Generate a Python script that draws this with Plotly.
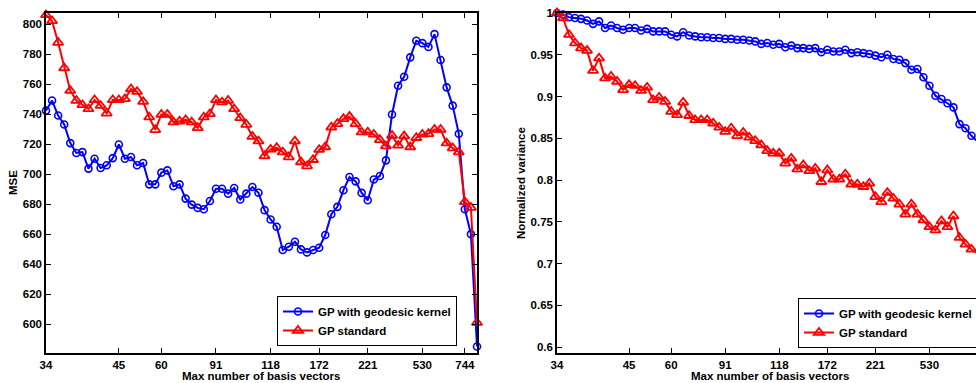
import plotly.graph_objects as go

# x positions: index of the basis-vector setting (plotted at equal spacing)
steps = list(range(72))
tick_pos = [0, 12, 19, 28, 37, 45, 53, 62, 69]
tick_labels = ["34", "45", "60", "91", "118", "172", "221", "530", "744"]

mse_geodesic = [742.4, 749.1, 739.1, 733.1, 720.7, 714.1, 714.7, 703.7, 710.3, 704.1,
                705.9, 710.7, 719.8, 710.3, 711.4, 705.9, 707.4, 693.2, 693.2, 701.0,
                702.5, 691.9, 693.2, 683.7, 679.7, 677.5, 676.6, 682.1, 690.3, 690.3,
                687.0, 690.8, 683.1, 687.0, 691.4, 687.6, 676.0, 669.8, 664.9, 649.4,
                651.6, 654.9, 649.8, 647.8, 649.4, 650.9, 659.4, 673.3, 678.2, 689.3,
                698.1, 695.2, 687.5, 682.6, 696.4, 698.8, 709.2, 739.8, 759.0, 765.0,
                777.9, 789.0, 787.4, 784.9, 793.4, 776.1, 757.9, 745.7, 726.9, 676.6,
                660.0, 585.0]
mse_standard = [806.2, 802.2, 787.8, 770.8, 755.7, 749.1, 746.2, 743.5, 749.5, 745.7,
                740.6, 749.5, 749.5, 750.2, 756.8, 755.0, 748.4, 738.0, 729.6, 739.8,
                739.8, 734.7, 735.3, 736.2, 734.7, 730.9, 738.0, 740.2, 749.5, 748.0,
                749.1, 743.5, 737.5, 733.1, 725.1, 722.0, 712.1, 716.5, 717.6, 714.7,
                711.4, 722.0, 708.1, 705.4, 709.6, 716.3, 718.1, 731.3, 733.6, 736.9,
                738.4, 733.6, 728.0, 728.0, 726.5, 722.9, 718.7, 725.8, 719.2, 725.4,
                718.1, 724.3, 726.5, 726.9, 729.8, 729.8, 720.7, 717.4, 714.7, 681.5,
                677.7, 601.0]

var_geodesic = [1.000, 0.998, 0.995, 0.994, 0.993, 0.991, 0.987, 0.990, 0.982, 0.985,
                0.982, 0.980, 0.982, 0.982, 0.979, 0.981, 0.978, 0.978, 0.978, 0.974,
                0.972, 0.977, 0.973, 0.972, 0.971, 0.971, 0.970, 0.970, 0.969, 0.969,
                0.968, 0.968, 0.967, 0.966, 0.963, 0.964, 0.962, 0.963, 0.959, 0.961,
                0.958, 0.958, 0.957, 0.958, 0.953, 0.956, 0.954, 0.954, 0.956, 0.952,
                0.953, 0.952, 0.951, 0.949, 0.947, 0.950, 0.945, 0.944, 0.940, 0.932,
                0.933, 0.923, 0.913, 0.901, 0.897, 0.892, 0.887, 0.867, 0.862, 0.853,
                0.846, 0.838]
var_standard = [1.000, 0.994, 0.974, 0.964, 0.958, 0.955, 0.931, 0.946, 0.922, 0.924,
                0.918, 0.908, 0.914, 0.913, 0.907, 0.911, 0.896, 0.899, 0.894, 0.882,
                0.878, 0.893, 0.877, 0.872, 0.872, 0.872, 0.868, 0.863, 0.858, 0.862,
                0.853, 0.857, 0.851, 0.847, 0.842, 0.835, 0.832, 0.832, 0.820, 0.826,
                0.813, 0.818, 0.811, 0.814, 0.798, 0.812, 0.801, 0.801, 0.807, 0.795,
                0.795, 0.792, 0.796, 0.780, 0.774, 0.785, 0.778, 0.771, 0.759, 0.771,
                0.759, 0.752, 0.744, 0.740, 0.751, 0.744, 0.757, 0.731, 0.723, 0.717,
                0.713, 0.708]

mse_ticks = [600, 620, 640, 660, 680, 700, 720, 740, 760, 780, 800]
var_ticks = [0.6, 0.65, 0.7, 0.75, 0.8, 0.85, 0.9, 0.95, 1.0]
var_tick_labels = ["0.6", "0.65", "0.7", "0.75", "0.8", "0.85", "0.9", "0.95", "1"]

FONT = "Liberation Sans, Arial, sans-serif"
FS = 11.5
BLUE = "#0000FF"
RED = "#FF0000"

fig = go.Figure()

def add_pair(xa, ya, ygeo, ystd, legend):
    fig.add_trace(go.Scatter(
        x=steps, y=ygeo, xaxis=xa, yaxis=ya, mode="lines+markers",
        name="GP with geodesic kernel", legend=legend, cliponaxis=False,
        line=dict(color=BLUE, width=2),
        marker=dict(symbol="circle-open", size=7, color=BLUE, line=dict(width=1.6, color=BLUE))))
    fig.add_trace(go.Scatter(
        x=steps, y=ystd, xaxis=xa, yaxis=ya, mode="lines+markers",
        name="GP standard", legend=legend, cliponaxis=False,
        line=dict(color=RED, width=2),
        marker=dict(symbol="triangle-up-open", size=9, color=RED, line=dict(width=1.8, color=RED))))

add_pair("x", "y", mse_geodesic, mse_standard, "legend")
add_pair("x2", "y2", var_geodesic, var_standard, "legend2")

tickfont = dict(family=FONT, size=FS, color="black", weight="bold")
axis_common = dict(showgrid=False, zeroline=False, showline=True, linecolor="black",
                   linewidth=1.5, ticks="inside", ticklen=5, tickwidth=1, tickcolor="black",
                   tickfont=tickfont)

left_dom = [0, 431 / 930]
right_dom = [511 / 930, 1]
legend_font = dict(family=FONT, size=FS, color="black", weight="bold")

fig.update_layout(
    width=976, height=383,
    margin=dict(l=46, r=0, t=13, b=30, autoexpand=False),
    paper_bgcolor="white", plot_bgcolor="white",
    font=dict(family=FONT, size=FS, color="black"),
    hovermode=False,
    xaxis=dict(domain=left_dom, range=[0, 71], tickvals=tick_pos, ticktext=tick_labels,
               mirror="allticks", anchor="y", **axis_common),
    yaxis=dict(domain=[0, 1], range=[580.7, 807.5], tickvals=mse_ticks,
               mirror="allticks", anchor="x", **axis_common),
    xaxis2=dict(domain=right_dom, range=[0, 69.75], tickvals=tick_pos[:-1],
                ticktext=tick_labels[:-1], mirror="allticks", anchor="y2", **axis_common),
    yaxis2=dict(domain=[0, 1], range=[0.593, 1.0], tickvals=var_ticks, ticktext=var_tick_labels,
                mirror=False, anchor="x2", **axis_common),
    legend=dict(x=231 / 930, y=(353 - 296) / 340, xanchor="left", yanchor="top",
                bgcolor="white", bordercolor="black", borderwidth=1,
                font=legend_font, itemwidth=30, tracegroupgap=0),
    legend2=dict(x=752 / 930, y=(353 - 298) / 340, xanchor="left", yanchor="top",
                 bgcolor="white", bordercolor="black", borderwidth=1,
                 font=legend_font, itemwidth=30, tracegroupgap=0),
    showlegend=True,
)

title_font = dict(family=FONT, size=FS, color="black", weight="bold")
fig.add_annotation(text="Max number of basis vectors", x=(261 - 46) / 930, y=(353 - 376) / 340,
                   xref="paper", yref="paper", showarrow=False, font=title_font,
                   xanchor="center", yanchor="middle")
fig.add_annotation(text="Max number of basis vectors", x=(770 - 46) / 930, y=(353 - 376) / 340,
                   xref="paper", yref="paper", showarrow=False, font=title_font,
                   xanchor="center", yanchor="middle")
fig.add_annotation(text="MSE", x=(13 - 46) / 930, y=0.5, xref="paper", yref="paper",
                   showarrow=False, font=title_font, textangle=-90,
                   xanchor="center", yanchor="middle")
fig.add_annotation(text="Normalized variance", x=(521 - 46) / 930, y=0.5, xref="paper",
                   yref="paper", showarrow=False, font=title_font, textangle=-90,
                   xanchor="center", yanchor="middle")

fig.write_html("out.html", config={"displayModeBar": False},
               post_script="document.body.style.margin='0px';document.body.style.overflow='hidden';")
